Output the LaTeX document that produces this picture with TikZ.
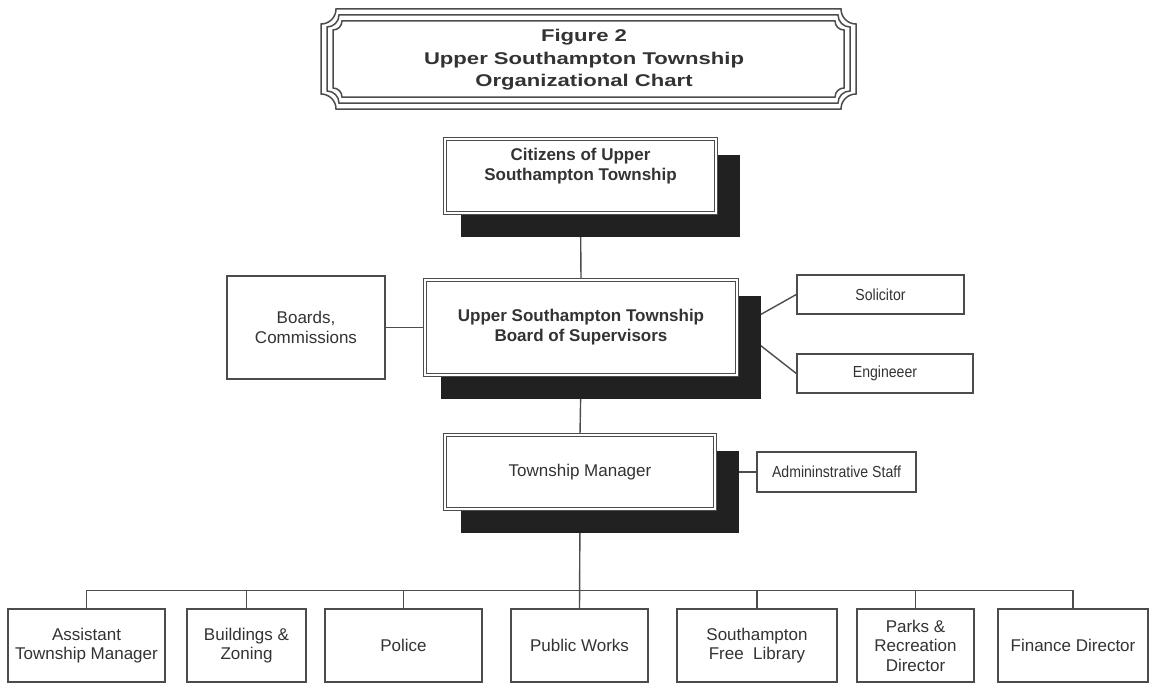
\documentclass[tikz,border=0pt]{standalone}
\usepackage{fontspec}
\setmainfont{Liberation Sans}
\newfontfamily\titlefont[FakeStretch=1.3]{Liberation Sans}
\newfontfamily\narrowfont[FakeStretch=0.88]{Liberation Sans}
\usepackage{tikz}
\usetikzlibrary{calc}
\pgfdeclarelayer{background}
\pgfsetlayers{background,main}
\definecolor{inkgray}{gray}{0.2}
\definecolor{linegray}{gray}{0.3}
\definecolor{shadowgray}{gray}{0.13}
\newcommand{\boldfont}{\fontsize{17}{20}\selectfont\bfseries}
\tikzstyle{mainbox}=[draw=linegray,double=white,double distance=2pt,line width=1.1pt,fill=white,inner sep=0pt,align=center,text=inkgray]
\tikzstyle{box}=[draw=linegray,line width=1.4pt,fill=white,inner sep=0pt,align=center,text=inkgray,font=\fontsize{17}{19.5}\selectfont]
\tikzstyle{smallbox}=[box,font=\narrowfont\fontsize{16}{18}\selectfont]
\tikzstyle{link}=[draw=linegray,line width=1.4pt]
\tikzstyle{frameline}=[draw=linegray,line width=1.5pt]

\begin{document}
\begin{tikzpicture}[x=1pt,y=-1pt]
    \useasboundingbox (0,0) rectangle (1150,685);
    % title
    \node[text=inkgray,align=center,font=\titlefont\bfseries\fontsize{17}{22.5}\selectfont] (title) at (584,60) {Figure 2\\Upper Southampton Township\\Organizational Chart};
    \foreach \d/\r in {0/15,6/12,12/9} {
      \draw[frameline] ({321+\d+\r},{9+\d}) -- ({856-\d-\r},{9+\d}) arc[start angle=180,end angle=270,radius=\r pt]
        -- ({856-\d},{109-\d-\r}) arc[start angle=90,end angle=180,radius=\r pt]
        -- ({321+\d+\r},{109-\d}) arc[start angle=0,end angle=90,radius=\r pt]
        -- ({321+\d},{9+\d+\r}) arc[start angle=270,end angle=360,radius=\r pt] -- cycle;
    }
    % main chain
    \node[mainbox,minimum width=271pt,minimum height=74pt,
          label={[text=inkgray,align=center,font=\boldfont,yshift=10pt]center:{Citizens of Upper\\Southampton Township}}] (cit) at (580.5,176) {};
    \node[mainbox,minimum width=312pt,minimum height=95pt,font=\boldfont] (bos) at (581,327.5) {Upper Southampton Township\\Board of Supervisors};
    \node[mainbox,minimum width=270pt,minimum height=74pt,font=\fontsize{17}{19.5}\selectfont] (mgr) at (580,472) {Township Manager};
    % side boxes
    \node[box,minimum width=158pt,minimum height=103pt] (brd) at (306,327.5) {Boards,\\Commissions};
    \node[smallbox,minimum width=167pt,minimum height=39pt] (sol) at (880.5,294.5) {Solicitor};
    \node[smallbox,minimum width=176pt,minimum height=39pt] (eng) at (885,373.5) {Engineeer};
    \node[smallbox,minimum width=159pt,minimum height=40pt] (adm) at (836.5,472) {Admininstrative Staff};
    % departments
    \node[box,minimum width=157pt,minimum height=73pt] (asst) at (86.5,645.5) {Assistant\\Township Manager};
    \node[box,minimum width=119pt,minimum height=73pt] (bz) at (246.5,645.5) {Buildings \&\\Zoning};
    \node[box,minimum width=157pt,minimum height=73pt] (pol) at (403.5,645.5) {Police};
    \node[box,minimum width=137pt,minimum height=73pt] (pw) at (579.5,645.5) {Public Works};
    \node[box,minimum width=160pt,minimum height=73pt] (lib) at (757,645.5) {Southampton\\Free\ \ Library};
    \node[box,minimum width=117pt,minimum height=73pt] (prk) at (915.5,645.5) {Parks \&\\Recreation\\Director};
    \node[box,minimum width=150pt,minimum height=73pt] (fin) at (1073,645.5) {Finance Director};

    \begin{pgfonlayer}{background}
    \draw[link] (cit.south) -- (bos.north);
    \draw[link] (bos.south) -- (mgr.north);
    \draw[link] (brd.east) -- (bos.west);
    \draw[link] (bos.east) -- (sol.west);
    \draw[link] (bos.east) -- (eng.west);
    \draw[link] (mgr.east) -- (adm.west);
    \draw[link] (mgr.south) -- (pw.north);
    \draw[link] (asst.north) -- ++(0,-18) -| (fin.north);
    \foreach \b in {bz,pol,lib,prk}
      \draw[link] (\b.north) -- ++(0,-18);
    % shadows
    \foreach \n in {cit,bos,mgr}
      \fill[shadowgray] ([shift={(17,17)}]\n.north west) rectangle ([shift={(23,23)}]\n.south east);
    \end{pgfonlayer}
\end{tikzpicture}
\end{document}
